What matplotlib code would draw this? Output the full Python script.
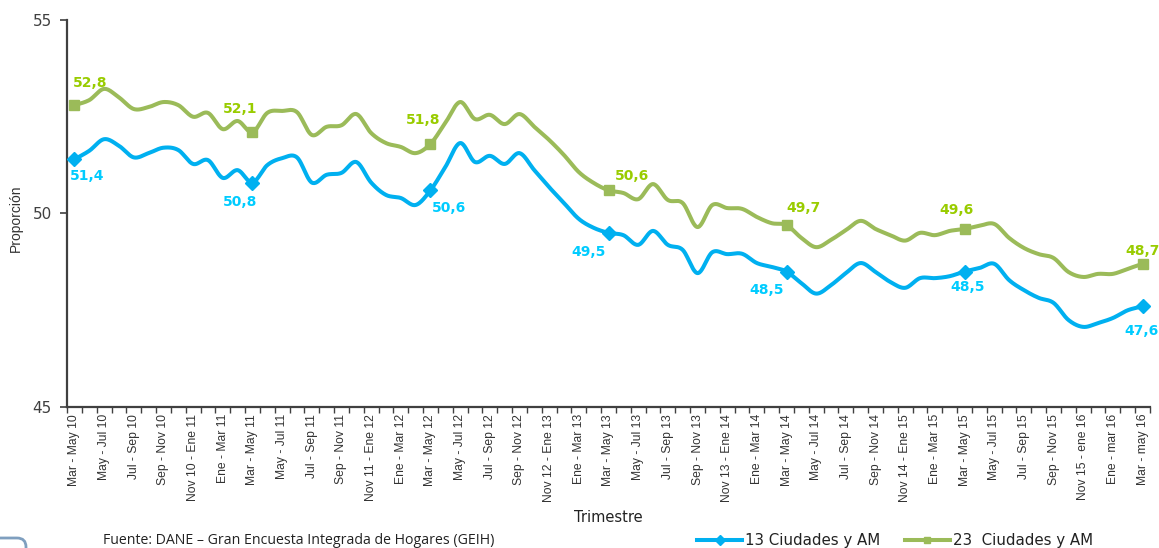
import numpy as np
import matplotlib
matplotlib.use("Agg")
import matplotlib.pyplot as plt
from matplotlib.lines import Line2D
from matplotlib.patches import FancyBboxPatch

# ---------------- data ----------------
tick_labels = [
    "Mar - May 10", "May - Jul 10", "Jul - Sep 10", "Sep - Nov 10", "Nov 10 - Ene 11",
    "Ene - Mar 11", "Mar - May 11", "May - Jul 11", "Jul - Sep 11", "Sep - Nov 11",
    "Nov 11 - Ene 12", "Ene - Mar 12", "Mar - May 12", "May - Jul 12", "Jul - Sep 12",
    "Sep - Nov 12", "Nov 12 - Ene 13", "Ene - Mar 13", "Mar - May 13", "May - Jul 13",
    "Jul - Sep 13", "Sep - Nov 13", "Nov 13 - Ene 14", "Ene - Mar 14", "Mar - May 14",
    "May - Jul 14", "Jul - Sep 14", "Sep - Nov 14", "Nov 14 - Ene 15", "Ene - Mar 15",
    "Mar - May 15", "May - Jul 15", "Jul - Sep 15", "Sep - Nov 15", "Nov 15 - ene 16",
    "Ene - mar 16", "Mar - may 16",
]

ciudades_13 = [
    51.4, 51.62, 51.92, 51.75, 51.45, 51.56, 51.7, 51.64, 51.28, 51.38,
    50.92, 51.12, 50.8, 51.25, 51.43, 51.45, 50.8, 51.0, 51.05, 51.33,
    50.8, 50.48, 50.4, 50.22, 50.6, 51.2, 51.82, 51.33, 51.49, 51.28,
    51.56, 51.12, 50.68, 50.27, 49.86, 49.63, 49.5, 49.44, 49.19, 49.55,
    49.19, 49.06, 48.46, 49.0, 48.95, 48.96, 48.72, 48.62, 48.5, 48.2,
    47.93, 48.15, 48.46, 48.72, 48.49, 48.23, 48.08, 48.33, 48.33, 48.38,
    48.5, 48.59, 48.7, 48.28, 48.02, 47.82, 47.69, 47.25, 47.07, 47.17,
    47.3, 47.5, 47.6,
]

ciudades_23 = [
    52.8, 52.93, 53.22, 53.0, 52.7, 52.75, 52.88, 52.8, 52.5, 52.6,
    52.18, 52.39, 52.1, 52.6, 52.65, 52.62, 52.03, 52.24, 52.28, 52.57,
    52.08, 51.82, 51.72, 51.56, 51.8, 52.34, 52.88, 52.44, 52.55, 52.31,
    52.57, 52.24, 51.9, 51.51, 51.07, 50.79, 50.6, 50.53, 50.37, 50.76,
    50.35, 50.27, 49.65, 50.22, 50.14, 50.12, 49.91, 49.75, 49.7, 49.37,
    49.13, 49.32, 49.57, 49.81, 49.6, 49.44, 49.3, 49.5, 49.44, 49.55,
    49.6, 49.68, 49.73, 49.37, 49.11, 48.95, 48.85, 48.49, 48.36, 48.44,
    48.44, 48.57, 48.7,
]

marker_idx = [0, 12, 24, 36, 48, 60, 72]   # Mar - May of each year

series_names = ["13 Ciudades y AM", "23  Ciudades y AM"]

# label offsets (points) for the annotated values
off_13 = [(9, -12), (-9, -14), (13, -13), (-14, -14), (-14, -13), (2, -11), (-1, -18)]
off_23 = [(11, 16), (-9, 17), (-5, 17), (17, 10), (12, 12), (-6, 14), (0, 9)]

# ---------------- style ----------------
BLUE = "#00B0F0"
BLUE_TXT = "#00CCFF"
GREEN = "#9BBB59"
GREEN_TXT = "#99CC00"
AXC = "#404040"


def smooth(xv, yv, n=24):
    P = np.column_stack([xv, yv]).astype(float)
    ext = np.vstack([P[0], P, P[-1]])
    t = np.linspace(0, 1, n)[:, None]
    out = []
    for i in range(len(P) - 1):
        p0, p1, p2, p3 = ext[i], ext[i + 1], ext[i + 2], ext[i + 3]
        c1 = p1 + (p2 - p0) / 6.0
        c2 = p2 - (p3 - p1) / 6.0
        seg = (1 - t) ** 3 * p1 + 3 * (1 - t) ** 2 * t * c1 + 3 * (1 - t) * t ** 2 * c2 + t ** 3 * p2
        out.append(seg if i == 0 else seg[1:])
    S = np.vstack(out)
    return S[:, 0], S[:, 1]


W, H = 1159, 548
fig = plt.figure(figsize=(W / 100, H / 100), dpi=100)
fig.patch.set_facecolor("white")
ax = fig.add_axes([67 / W, 1 - 407 / H, (1150 - 67) / W, (407 - 20) / H])

x = np.arange(len(ciudades_13))

for vals, col, mk, ms in [(ciudades_13, BLUE, "D", 7), (ciudades_23, GREEN, "s", 7)]:
    sx, sy = smooth(x, vals)
    ax.plot(sx, sy, color=col, lw=2.9, solid_capstyle="round", zorder=3)
    ax.plot(x[marker_idx], np.asarray(vals)[marker_idx], ls="none", marker=mk,
            ms=ms, color=col, mec=col, zorder=4)

for j, i in enumerate(marker_idx):
    v = ciudades_13[i]
    ax.annotate(f"{v:.1f}".replace(".", ","), (x[i], v), xytext=off_13[j],
                textcoords="offset points", ha="center", va="center",
                color=BLUE_TXT, fontsize=10, fontweight="bold",
                family="DejaVu Sans", zorder=5)
    v = ciudades_23[i]
    ax.annotate(f"{v:.1f}".replace(".", ","), (x[i], v), xytext=off_23[j],
                textcoords="offset points", ha="center", va="center",
                color=GREEN_TXT, fontsize=10, fontweight="bold",
                family="DejaVu Sans", zorder=5)

ax.set_xlim(-0.5, len(x) - 0.5)
ax.set_ylim(45, 55)
ax.set_yticks([45, 50, 55])
ax.set_yticklabels(["45", "50", "55"], family="DejaVu Sans", fontsize=11, color=AXC)
ax.tick_params(axis="y", length=5, width=1.2, color=AXC, pad=6)

ax.set_xticks(x[::2])
ax.set_xticklabels(tick_labels, rotation=90, family="Liberation Sans", fontsize=8.7,
                   color="#333333")
ax.tick_params(axis="x", which="major", length=0, pad=5)
ax.set_xticks(np.arange(-0.5, len(x) + 0.5, 1.0), minor=True)
ax.tick_params(axis="x", which="minor", length=4, width=1.0, color=AXC, direction="out")

for s in ["top", "right"]:
    ax.spines[s].set_visible(False)
for s in ["left", "bottom"]:
    ax.spines[s].set_color(AXC)
    ax.spines[s].set_linewidth(1.6)

fig.text(16 / W, 1 - 218 / H, "Proporción", rotation=90, ha="center", va="center",
         family="Liberation Sans", fontsize=10, color="#333333")

fig.text(608 / W, 1 - 518 / H, "Trimestre", ha="center", va="center",
         family="DejaVu Sans", fontsize=10.5, color="#222222")

fig.text(103 / W, 1 - 540 / H, "Fuente: DANE – Gran Encuesta Integrada de Hogares (GEIH)",
         ha="left", va="center", family="Open Sans", fontsize=10.2, color="#222222")

handles = [
    Line2D([], [], color=BLUE, lw=2.9, marker="D", ms=5),
    Line2D([], [], color=GREEN, lw=2.9, marker="s", ms=5),
]
leg = fig.legend(handles, series_names, ncol=2, loc="center",
                 bbox_to_anchor=(895 / W, 1 - 541 / H), frameon=False,
                 prop={"family": "DejaVu Sans", "size": 10.8}, handlelength=3.0,
                 handletextpad=0.2, columnspacing=1.6, borderpad=0, borderaxespad=0)
for t in leg.get_texts():
    t.set_color("#222222")

# decorative rounded frame fragment at bottom-left
deco = FancyBboxPatch((-60, -30), 86, 40, boxstyle="round,pad=0,rounding_size=9",
                      transform=None, fill=False, edgecolor="#7F9FBF", lw=2.0,
                      clip_on=False)
fig.patches.append(deco)

fig.savefig("out.png", dpi=100)
